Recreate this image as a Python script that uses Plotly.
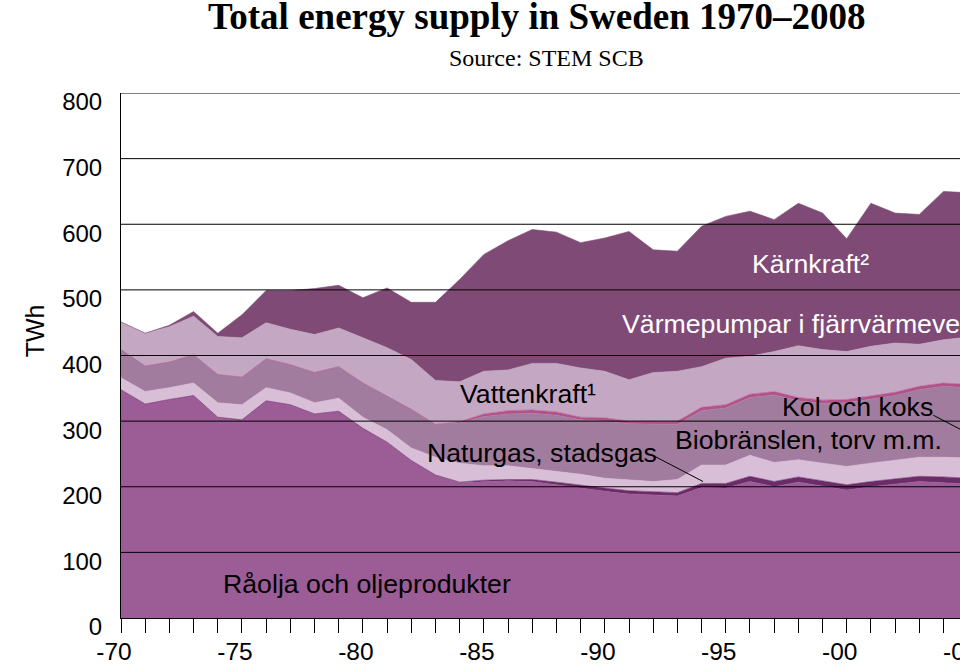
import plotly.graph_objects as go

years = list(range(1970, 2009))

olja = [348, 326, 333, 339, 306, 302, 331, 325, 311, 315,
        289, 268, 240, 218, 206, 208, 209, 208, 203, 197,
        193, 189, 187, 186, 199, 198, 208, 200, 207, 201,
        195, 200, 204, 208, 206, 204, 200, 195, 190]
naturgas = [0] * 14 + [1, 2, 2, 3, 4, 5, 5, 5, 5, 5, 6, 7, 8, 8, 8, 8, 8, 8, 8, 8, 9, 9, 9, 9, 10]
kol = [18, 19, 18, 19, 22, 23, 20, 18, 17, 20,
       17, 19, 19, 27, 29, 22, 21, 17, 17, 17,
       15, 17, 16, 20, 28, 28, 32, 29, 26, 27,
       28, 28, 28, 29, 30, 31, 31, 34, 34]
bio = [43, 39, 39, 43, 43, 42, 44, 43, 46, 48,
       52, 51, 59, 50, 61, 75, 79, 84, 85, 83,
       87, 85, 88, 84, 83, 87, 88, 103, 90, 91,
       97, 97, 99, 103, 108, 107, 115, 122, 128]
varmepump = [0] * 14 + [2, 4, 5, 5, 5, 4, 5, 4, 4, 5] + [5] * 15
vatten = [42, 50, 54, 59, 58, 60, 55, 54, 58, 59,
          69, 74, 76, 67, 61, 65, 62, 71, 74, 75,
          71, 63, 74, 76, 62, 71, 58, 61, 79, 77,
          73, 76, 75, 64, 66, 72, 65, 65, 65]
karnkraft = [0, 0, 2, 7, 5, 35, 49, 59, 70, 65,
             61, 91, 87, 119, 156, 178, 197, 204, 200, 191,
             203, 226, 187, 183, 214, 216, 221, 201, 217, 208,
             172, 218, 198, 198, 226, 220, 200, 200, 183]

tick_years = [1970, 1975, 1980, 1985, 1990, 1995, 2000, 2005]
tick_text = ["-70", "-75", "-80", "-85", "-90", "-95", "-00", "-05"]
y_ticks = [0, 100, 200, 300, 400, 500, 600, 700, 800]

X0 = 1970
X1 = 1970 + 839.3 / 24.2

series = [
    ("Råolja och oljeprodukter", olja, "#9C5D97"),
    ("Naturgas, stadsgas", naturgas, "#6B2C69"),
    ("Kol och koks", kol, "#D8BED6"),
    ("Biobränslen, torv m.m.", bio, "#A27C9F"),
    ("Värmepumpar i fjärrvärmeverk", varmepump, "#B3528A"),
    ("Vattenkraft", vatten, "#C4A7C3"),
    ("Kärnkraft", karnkraft, "#7F4A76"),
]

fig = go.Figure()
for name, vals, col in series:
    fig.add_trace(go.Scatter(
        x=years, y=vals, name=name, stackgroup="one", mode="lines",
        line=dict(width=0.6, color=col), fillcolor=col, showlegend=False,
        hoverinfo="skip"))

shapes = []
for v in y_ticks[1:]:
    shapes.append(dict(type="line", xref="paper", x0=0, x1=1, yref="y", y0=v, y1=v,
                       line=dict(color="black", width=1), layer="above"))
# leader lines
shapes.append(dict(type="line", xref="x", yref="y", x0=1992.08, y0=246, x1=1994.06, y1=208,
                   line=dict(color="black", width=1), layer="above"))
shapes.append(dict(type="line", xref="x", yref="y", x0=2003.58, y0=309, x1=2005.5, y1=272,
                   line=dict(color="black", width=1), layer="above"))

FS = "Liberation Sans, Arial, sans-serif"
lab_font = dict(family=FS, size=26.7, color="black")
wlab_font = dict(family=FS, size=26.7, color="white")
annotations = [
    dict(x=1980.17, y=52, text="Råolja och oljeprodukter", font=lab_font),
    dict(x=1987.4, y=252, text="Naturgas, stadsgas", font=lab_font),
    dict(x=1986.84, y=342, text="Vattenkraft¹", font=lab_font),
    dict(x=1998.42, y=272, text="Biobränslen, torv m.m.", font=lab_font),
    dict(x=2000.44, y=322, text="Kol och koks", font=lab_font),
    dict(x=1998.5, y=540, text="Kärnkraft²", font=wlab_font),
    dict(x=1990.63, y=448, text="Värmepumpar i fjärrvärmeverk", font=wlab_font, xanchor="left"),
]
for a in annotations:
    a.setdefault("xanchor", "center")
    a.update(xref="x", yref="y", yanchor="middle", showarrow=False)

annotations += [
    dict(xref="paper", yref="paper", x=0.496, y=1.1453, text="<b>Total energy supply in Sweden 1970–2008</b>",
         showarrow=False, xanchor="center", yanchor="middle",
         font=dict(family="Liberation Serif, Times New Roman, serif", size=37, color="black")),
    dict(xref="paper", yref="paper", x=0.507, y=1.0673, text="Source: STEM SCB",
         showarrow=False, xanchor="center", yanchor="middle",
         font=dict(family="Liberation Serif, Times New Roman, serif", size=24, color="black")),
    dict(xref="paper", yref="paper", x=-0.1025, y=0.546, text="TWh", textangle=-90,
         showarrow=False, xanchor="center", yanchor="middle",
         font=dict(family=FS, size=25, color="black")),
    # last tick label sits just beyond the visible axis range (cut by the page edge)
    dict(xref="paper", yref="paper", x=(tick_years[-1] - X0) / (X1 - X0), y=0, xshift=-7, yshift=-33,
         text=tick_text[-1], showarrow=False, xanchor="center", yanchor="middle",
         font=dict(family=FS, size=24.5, color="black")),
]

fig.update_layout(
    width=960, height=664,
    margin=dict(l=120.7, r=0, t=93.3, b=45.7, autoexpand=False),
    paper_bgcolor="white", plot_bgcolor="white",
    shapes=shapes, annotations=annotations,
    xaxis=dict(range=[X0, X1], tickvals=tick_years, ticktext=tick_text,
               ticks="outside", ticklen=14, tickcolor="black", tickwidth=1,
               minor=dict(dtick=1, tick0=1970, ticks="outside", ticklen=14, tickcolor="black", tickwidth=1),
               showline=True, linecolor="black", linewidth=1, showgrid=False, zeroline=False,
               ticklabelshift=-7, ticklabelstandoff=-2,
               tickfont=dict(family=FS, size=24.5, color="black")),
    yaxis=dict(range=[0, 800], tickvals=y_ticks, ticks="", showline=True, linecolor="black",
               linewidth=1, showgrid=False, zeroline=False, ticklabelshift=9, ticklabelstandoff=13,
               tickfont=dict(family=FS, size=24, color="black")),
)

fig.write_html(
    "out.html",
    config={"displayModeBar": False},
    post_script="document.body.style.margin='0px';document.body.style.padding='0px';"
                "document.body.style.overflow='hidden';",
)
